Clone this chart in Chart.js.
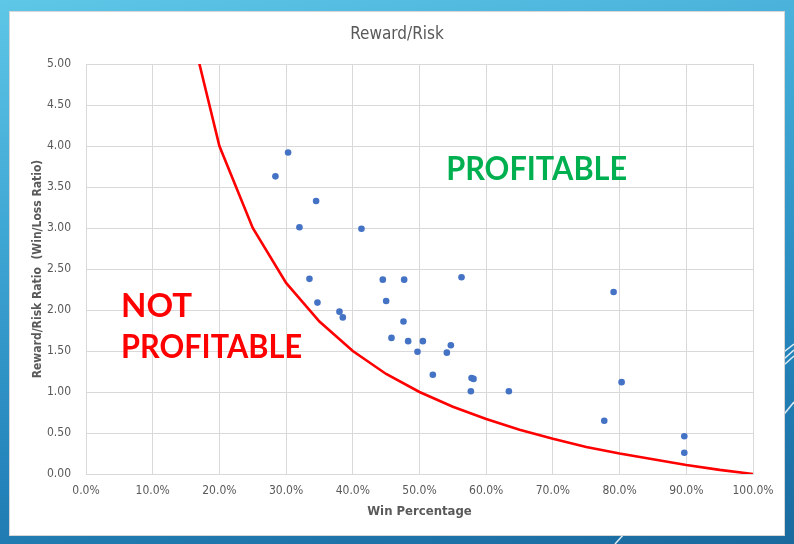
<!DOCTYPE html>
<html>
<head>
<meta charset="utf-8">
<script src="https://cdn.jsdelivr.net/npm/chart.js@4"></script>
<style>
  html, body { margin: 0; padding: 0; }
  body {
    width: 794px; height: 544px; position: relative; overflow: hidden;
    background: linear-gradient(170deg, #5ec6e6 0%, #3ea6d3 35%, #2484bb 70%, #1a6a9e 100%);
  }
  #deco { position: absolute; left: 0; top: 0; }
  #card {
    position: absolute; left: 9px; top: 11px; width: 776px; height: 525px;
    background: #fff; box-sizing: border-box; border: 1px solid #d6d6d6;
  }
  #card canvas { display: block; }
</style>
</head>
<body>
<svg id="deco" width="794" height="544">
  <g stroke="#ffffff" stroke-width="1.5" opacity="0.85">
    <line x1="794" y1="344" x2="776" y2="358"/>
    <line x1="794" y1="350" x2="776" y2="366"/>
    <line x1="794" y1="356" x2="776" y2="372"/>
    <line x1="794" y1="402" x2="776" y2="424"/>
    <line x1="624" y1="534" x2="615" y2="544"/>
  </g>
</svg>
<div id="card"><canvas id="chart" width="776" height="525"></canvas></div>
<script>
// scatter: win percentage vs reward/risk
const winPct = [28.4, 30.3, 34.5, 32.0, 41.3, 33.5, 34.7, 38.0, 38.5, 44.5,
                47.7, 45.0, 47.6, 45.8, 48.3, 50.5, 49.7, 56.3, 54.7, 54.1,
                52.0, 57.8, 58.1, 57.7, 63.4, 79.1, 80.3, 77.7, 89.7, 89.7];
const rewardRisk = [3.63, 3.92, 3.33, 3.01, 2.99, 2.38, 2.09, 1.98, 1.91, 2.37,
                    2.37, 2.11, 1.86, 1.66, 1.62, 1.62, 1.49, 2.40, 1.57, 1.48,
                    1.21, 1.17, 1.16, 1.01, 1.01, 2.22, 1.12, 0.65, 0.46, 0.26];

// break-even curve
const breakevenPct = [15, 20, 25, 30, 35, 40, 45, 50, 55, 60, 65, 70, 75, 80, 85, 90, 95, 100];
const breakevenRatio = [5.67, 4.00, 3.00, 2.33, 1.86, 1.50, 1.22, 1.00, 0.82, 0.67,
                        0.54, 0.43, 0.33, 0.25, 0.18, 0.11, 0.05, 0.00];

const xTicks = [0, 10, 20, 30, 40, 50, 60, 70, 80, 90, 100];
const yTicks = [0, 0.5, 1, 1.5, 2, 2.5, 3, 3.5, 4, 4.5, 5];

const chartTitle = "Reward/Risk";
const xTitle = "Win Percentage";
const yTitle = "Reward/Risk Ratio  (Win/Loss Ratio)";

// region labels, placed in data units
const regionLabels = [
    { text: "PROFITABLE", color: "#00b050", x: 54.0, y: 3.71 },
    { text: "NOT", color: "#ff0000", x: 5.25, y: 2.04 },
    { text: "PROFITABLE", color: "#ff0000", x: 5.25, y: 1.55 }
];

const axisFont = "'Liberation Sans Narrow', 'DejaVu Sans Condensed', sans-serif";
const gray = "#595959";
const gridColor = "#d9d9d9";

const overlay = {
    id: "overlay",
    afterDraw(chart) {
        const ctx = chart.ctx;
        const xs = chart.scales.x, ys = chart.scales.y;
        ctx.save();
        // title
        ctx.fillStyle = gray;
        ctx.font = "17px " + axisFont;
        ctx.textAlign = "center";
        ctx.textBaseline = "middle";
        ctx.fillText(chartTitle, 387, 23);
        // region labels
        ctx.font = "bold 33px Lato, 'Liberation Sans', sans-serif";
        ctx.textAlign = "left";
        regionLabels.forEach(l => {
            ctx.fillStyle = l.color;
            ctx.fillText(l.text, xs.getPixelForValue(l.x), ys.getPixelForValue(l.y), 181);
        });
        ctx.restore();
    }
};

const ctx = document.getElementById("chart").getContext("2d");
new Chart(ctx, {
    data: {
        datasets: [
            {
                type: "line",
                data: breakevenPct.map((p, i) => ({ x: p, y: breakevenRatio[i] })),
                borderColor: "#ff0000",
                borderWidth: 2.6,
                pointRadius: 0,
                tension: 0
            },
            {
                type: "scatter",
                data: winPct.map((p, i) => ({ x: p, y: rewardRisk[i] })),
                backgroundColor: "#4472c4",
                borderColor: "#4472c4",
                pointRadius: 3.3,
                borderWidth: 0
            }
        ]
    },
    options: {
        responsive: false,
        animation: false,
        layout: { padding: { top: 52, right: 33, bottom: 0, left: 0 } },
        plugins: {
            legend: { display: false },
            tooltip: { enabled: false }
        },
        scales: {
            x: {
                type: "linear",
                min: 0, max: 100,
                afterBuildTicks: s => { s.ticks = xTicks.map(v => ({ value: v })); },
                afterFit: s => { s.height = 63; },
                ticks: {
                    padding: 10, color: gray,
                    font: { size: 12, family: axisFont },
                    callback: v => v.toFixed(1) + "%"
                },
                grid: { color: gridColor, drawTicks: false },
                border: { color: gridColor },
                title: {
                    display: true, text: xTitle, color: gray,
                    font: { size: 13, weight: "bold", family: axisFont },
                    padding: { top: 4, bottom: 18 }
                }
            },
            y: {
                type: "linear",
                min: 0, max: 5,
                afterBuildTicks: s => { s.ticks = yTicks.map(v => ({ value: v })); },
                afterFit: s => { s.width = 76; },
                ticks: {
                    padding: 15, color: gray,
                    font: { size: 12, family: axisFont },
                    callback: v => v.toFixed(2)
                },
                grid: { color: gridColor, drawTicks: false },
                border: { color: gridColor },
                title: {
                    display: true, text: yTitle, color: gray,
                    font: { size: 12, weight: "bold", family: axisFont },
                    padding: { top: 21, bottom: 4 }
                }
            }
        }
    },
    plugins: [overlay]
});
</script>
</body>
</html>
